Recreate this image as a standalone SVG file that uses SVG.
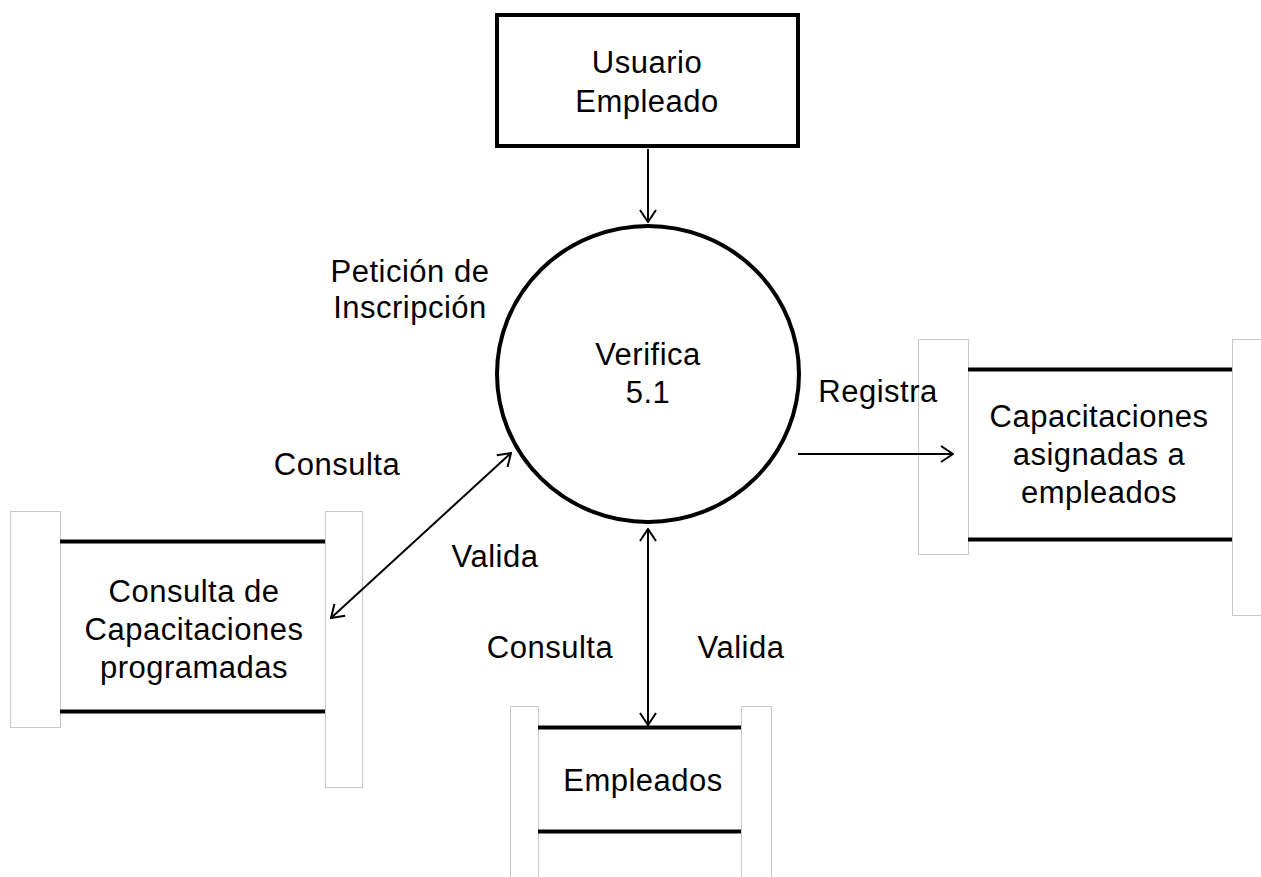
<svg xmlns="http://www.w3.org/2000/svg" width="1261" height="877" viewBox="0 0 1261 877">
<style>
text{font-family:"Liberation Sans",Arial,sans-serif;font-size:31px;letter-spacing:0.5px;fill:#000;text-anchor:middle}
.tab{fill:#fff;stroke:#c8c8c8;stroke-width:1}
.bar{stroke:#000;stroke-width:4}
.flow{stroke:#000;stroke-width:2;fill:none}
</style>
<defs>
<marker id="ah" viewBox="0 0 14 18" refX="13" refY="9" markerWidth="14" markerHeight="18" markerUnits="userSpaceOnUse" orient="auto-start-reverse">
<path d="M1,1 L13,9 L1,17" fill="none" stroke="#000" stroke-width="2"/>
</marker>
</defs>
<rect width="1261" height="877" fill="#fff"/>
<g id="usuario">
<rect x="497" y="15" width="301" height="131" fill="#fff" stroke="#000" stroke-width="4"/>
<text x="647" y="73">Usuario</text>
<text x="647" y="112">Empleado</text>
</g>
<g id="verifica">
<ellipse cx="648" cy="374" rx="151" ry="148" fill="#fff" stroke="#000" stroke-width="4"/>
<text x="648" y="365">Verifica</text>
<text x="648" y="403">5.1</text>
</g>
<g id="store-consulta">
<rect class="tab" x="10.5" y="511.5" width="50" height="216"/>
<rect class="tab" x="325.5" y="511.5" width="37" height="276"/>
<line class="bar" x1="60" y1="541.5" x2="325" y2="541.5"/>
<line class="bar" x1="60" y1="711.5" x2="325" y2="711.5"/>
<text x="194" y="602">Consulta de</text>
<text x="194" y="640">Capacitaciones</text>
<text x="194" y="678">programadas</text>
</g>
<g id="store-capacitaciones">
<rect class="tab" x="918.5" y="339.5" width="50" height="215"/>
<rect class="tab" x="1232.5" y="339.5" width="40" height="276"/>
<line class="bar" x1="968" y1="369.5" x2="1232" y2="369.5"/>
<line class="bar" x1="968" y1="539.5" x2="1232" y2="539.5"/>
<text x="1099" y="427">Capacitaciones</text>
<text x="1099" y="465">asignadas a</text>
<text x="1099" y="503">empleados</text>
</g>
<g id="store-empleados">
<rect class="tab" x="510.5" y="706.5" width="28" height="190"/>
<rect class="tab" x="741.5" y="706.5" width="30" height="190"/>
<line class="bar" x1="538" y1="727.5" x2="741" y2="727.5"/>
<line class="bar" x1="538" y1="831.5" x2="741" y2="831.5"/>
<text x="643" y="791">Empleados</text>
</g>
<g id="connectors">
<line class="flow" x1="648" y1="149" x2="648" y2="222" marker-end="url(#ah)"/>
<line class="flow" x1="798" y1="454" x2="953" y2="454" marker-end="url(#ah)"/>
<line class="flow" x1="331" y1="618" x2="511" y2="453" marker-start="url(#ah)" marker-end="url(#ah)"/>
<line class="flow" x1="648" y1="529" x2="648" y2="725" marker-start="url(#ah)" marker-end="url(#ah)"/>
</g>
<g id="labels">
<text x="410" y="282">Petición de</text>
<text x="410" y="318">Inscripción</text>
<text x="878" y="402">Registra</text>
<text x="337" y="475">Consulta</text>
<text x="495" y="567">Valida</text>
<text x="550" y="658">Consulta</text>
<text x="741" y="658">Valida</text>
</g>
</svg>
